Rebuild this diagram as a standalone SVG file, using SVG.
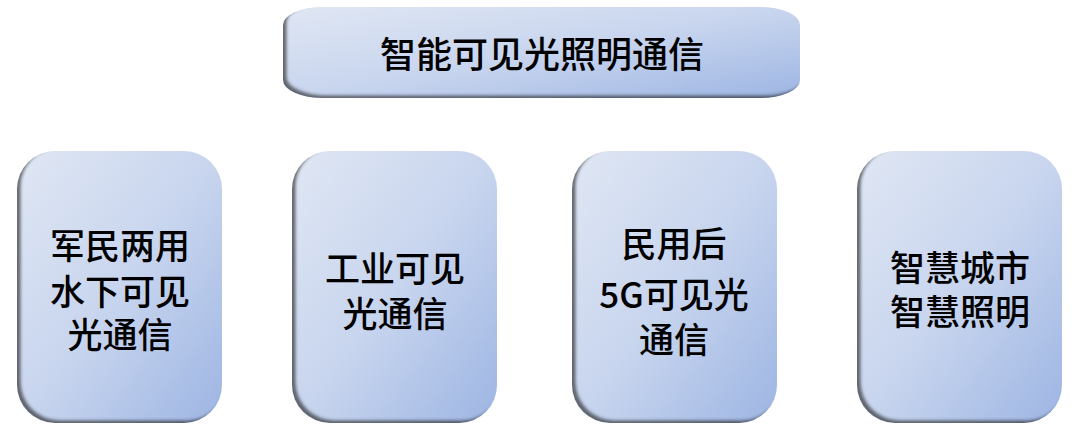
<svg xmlns="http://www.w3.org/2000/svg" width="1080" height="441" viewBox="0 0 1080 441">
<defs>
<linearGradient id="g" x1="0" y1="0" x2="1" y2="1">
<stop offset="0" stop-color="#e0e7f4"/>
<stop offset="0.5" stop-color="#c8d5ee"/>
<stop offset="1" stop-color="#9db5e3"/>
</linearGradient>
<filter id="bevel" x="-5%" y="-5%" width="110%" height="110%">
<feOffset in="SourceAlpha" dx="4" dy="-3" result="off"/>
<feGaussianBlur in="off" stdDeviation="1.8" result="blur"/>
<feComposite in="SourceAlpha" in2="blur" operator="out" result="inv"/>
<feFlood flood-color="#3a3a3a" flood-opacity="0.85"/>
<feComposite in2="inv" operator="in" result="shadow"/>
<feMerge><feMergeNode in="SourceGraphic"/><feMergeNode in="shadow"/></feMerge>
</filter>
<style>
.box{fill:url(#g);filter:url(#bevel);}
.t{font-family:"Noto Sans CJK SC","Noto Sans",sans-serif;font-size:35px;font-weight:500;fill:#000;text-anchor:middle;dominant-baseline:central;}
</style>
</defs>
<g id="root">
<rect class="box" x="283" y="7" width="517" height="91" rx="40" ry="18"/>
<text class="t" x="542" y="52" style="font-size:36px">智能可见光照明通信</text>
</g>
<g id="connectors"></g>
<g id="node1">
<rect class="box" x="17" y="151" width="205" height="272" rx="38" ry="38"/>
<text class="t" x="120" y="243">军民两用</text>
<text class="t" x="120" y="289">水下可见</text>
<text class="t" x="120" y="332">光通信</text>
</g>
<g id="node2">
<rect class="box" x="292" y="151" width="205" height="272" rx="38" ry="38"/>
<text class="t" x="395" y="266">工业可见</text>
<text class="t" x="395" y="311">光通信</text>
</g>
<g id="node3">
<rect class="box" x="572" y="151" width="205" height="272" rx="38" ry="38"/>
<text class="t" x="674" y="241">民用后</text>
<text class="t" x="674" y="292">5G可见光</text>
<text class="t" x="674" y="337">通信</text>
</g>
<g id="node4">
<rect class="box" x="857" y="151" width="205" height="272" rx="38" ry="38"/>
<text class="t" x="960" y="265">智慧城市</text>
<text class="t" x="960" y="309">智慧照明</text>
</g>
</svg>
